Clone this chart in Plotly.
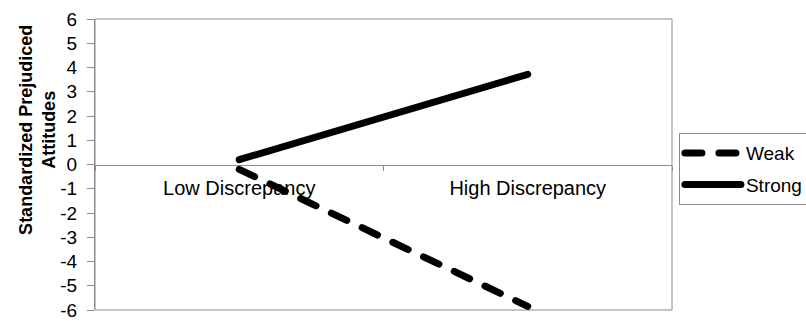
import plotly.graph_objects as go

categories = ["Low Discrepancy", "High Discrepancy"]
weak = [-0.2, -5.85]
strong = [0.2, 3.72]
y_ticks = list(range(-6, 7))
y_tick_labels = [str(v) for v in y_ticks]

FONT = "Liberation Sans, Arial, sans-serif"
GRAY = "#8c8c8c"

fig = go.Figure()
fig.add_trace(go.Scatter(x=categories, y=weak, mode="lines", name="Weak", legendgroup="w",
                         line=dict(color="black", width=7, dash="17px,17px")))
fig.add_trace(go.Scatter(x=categories, y=strong, mode="lines", name="Strong", legendgroup="s",
                         line=dict(color="black", width=7)))

fig.update_layout(
    width=806, height=321,
    margin=dict(l=95, r=134, t=19, b=11, autoexpand=False),
    paper_bgcolor="white", plot_bgcolor="white",
    font=dict(family=FONT, size=20, color="black"),
    showlegend=True,
    legend=dict(x=1.012, y=0.608, xanchor="left", yanchor="top",
                bordercolor=GRAY, borderwidth=1, font=dict(size=19),
                itemwidth=56, tracegroupgap=4),
    xaxis=dict(type="category", range=[-0.5, 1.5], anchor="free", position=0.5,
               showline=True, linecolor=GRAY, linewidth=1, showgrid=False,
               zeroline=False, ticks="outside", tickson="boundaries", ticklen=5,
               tickcolor=GRAY, tickfont=dict(size=20), automargin=False,
               ticklabelstandoff=5),
    yaxis=dict(range=[-6, 6], tickvals=y_ticks, ticktext=y_tick_labels,
               showgrid=False, zeroline=False, automargin=False,
               showline=True, linecolor=GRAY, linewidth=1, ticks="outside",
               ticklen=7, tickcolor=GRAY, tickfont=dict(size=19),
               ticklabelstandoff=6, ticklabeloverflow="allow"),
    shapes=[dict(type="rect", xref="x domain", yref="y domain", x0=0, x1=1, y0=0, y1=1,
                 line=dict(color=GRAY, width=1), layer="below")],
    annotations=[dict(text="<b>Standardized Prejudiced<br>Attitudes</b>", textangle=-90,
                      xref="paper", yref="paper", x=-0.1, y=0.62,
                      xanchor="center", yanchor="middle", showarrow=False,
                      font=dict(size=18, family=FONT))],
)

post = ("document.body.style.margin='0';document.body.style.overflow='hidden';"
        "document.querySelectorAll('.js-line').forEach(function(p){p.style.strokeLinecap='round';});")
fig.write_html("out.html", config={"displayModeBar": False}, post_script=post)
